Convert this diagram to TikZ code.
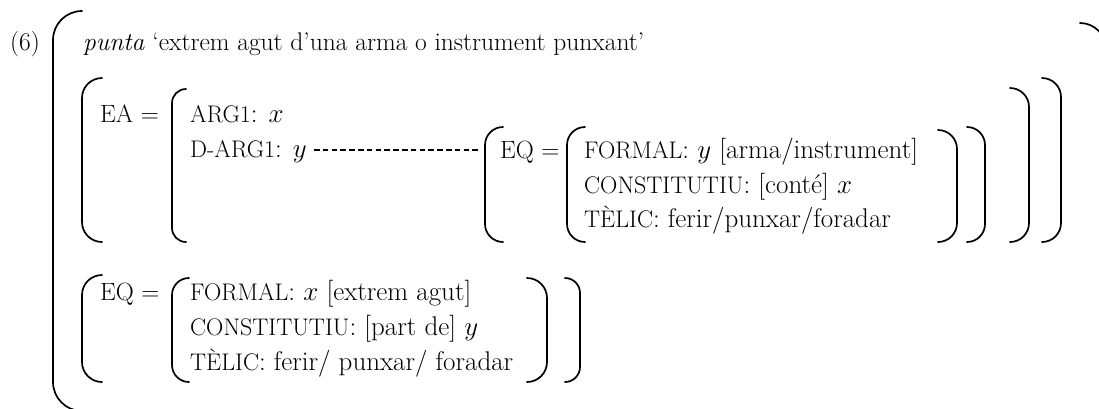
\RequirePackage{fix-cm}
\documentclass[tikz,border=0pt]{standalone}
\tikzset{
  brk/.style={line width=1.7pt, line cap=round},
  txt/.style={inner sep=0pt, anchor=base west, font=\fontsize{25.5}{30}\selectfont},
  lbl/.style={inner sep=0pt, anchor=base west, font=\fontsize{27}{32}\selectfont},
  dashline/.style={line width=1.3pt, dash pattern=on 5.5pt off 3.3pt},
}
\newcommand{\smc}[1]{{\fontsize{24}{28}\selectfont #1}}
\newcommand{\LBr}[4]{\draw[brk, rounded corners=#4pt] ({#1+#4},#2) -- (#1,#2) -- (#1,#3) -- ({#1+#4},#3);}
\newcommand{\RBr}[4]{\draw[brk, rounded corners=#4pt] ({#1-#4},#2) -- (#1,#2) -- (#1,#3) -- ({#1-#4},#3);}
\begin{document}
\begin{tikzpicture}[x=1pt,y=-1pt]
\useasboundingbox (0,0) rectangle (1099,408);
\clip (0,0) rectangle (1099,408);
% texts
\node[txt] (six) at (10,50) {(6)};
\node[txt] (gloss) at (83,50) {\textit{punta} `extrem agut d'una arma o instrument punxant'};
\node[txt, font=\fontsize{25}{30}\selectfont] (ea) at (100,122) {EA =};
\node[lbl] (arg) at (190,122) {\smc{ARG1}: $x$};
\node[lbl] (darg) at (190,157) {\smc{D-ARG1}: $y$};
\node[txt, font=\fontsize{25}{30}\selectfont] (eqa) at (500,158) {EQ =};
\node[lbl] (fa) at (584,158) {\smc{FORMAL}: $y$ [arma/instrument]};
\node[lbl] (ca) at (584,193) {\smc{CONSTITUTIU}: [conté] $x$};
\node[lbl] (ta) at (584,227) {\smc{TÈLIC}: ferir/punxar/foradar};
\node[txt, font=\fontsize{25}{30}\selectfont] (eqb) at (100,300) {EQ =};
\node[lbl] (fb) at (190,300) {\smc{FORMAL}: $x$ [extrem agut]};
\node[lbl] (cb) at (190,335) {\smc{CONSTITUTIU}: [part de] $y$};
\node[lbl] (tb) at (190,370) {\smc{TÈLIC}: ferir/ punxar/ foradar};
% dashed link
\coordinate (ds) at (314,150);
\coordinate (de) at (480,150);
\draw[dashline] (ds) -- (de);
% outer brackets
\LBr{53}{11}{411}{29}
\draw[brk, rounded corners=26pt] (1080,23) -- (1106,23) -- (1106,430);
% EA brackets
\LBr{82}{78}{242}{20}
\LBr{172}{89}{242}{14}
\RBr{1029}{88}{242}{19}
\RBr{1061}{78}{242}{19}
% inner EQ brackets
\LBr{485}{127}{242}{18}
\LBr{567}{127}{242}{18}
\RBr{957}{130}{242}{19}
\RBr{985}{127}{242}{18}
% lower EQ brackets
\LBr{82}{275}{382}{20}
\LBr{172}{278}{382}{17}
\RBr{547}{278}{382}{20}
\RBr{580}{278}{382}{15}
\end{tikzpicture}
\end{document}
